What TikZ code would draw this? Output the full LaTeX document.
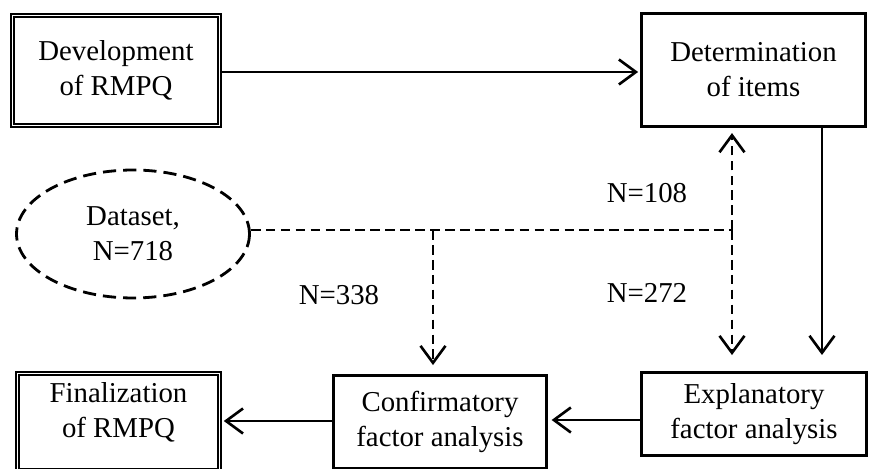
\documentclass[tikz,border=0pt]{standalone}
\usepackage{fontspec}
\setmainfont{Liberation Serif}
\usetikzlibrary{arrows.meta,shapes.geometric}
\begin{document}
\begin{tikzpicture}[x=0.02cm, y=-0.02cm, line width=1.6pt,
    font=\fontsize{16.4}{19.9}\selectfont,
    box/.style={draw, align=center, inner sep=0pt},
    dblbox/.style={box, line width=0.9pt, double, double distance=1.1pt},
    arr/.style={-{Straight Barb[length=0.34cm, width=0.5cm, line width=1.5pt]}},
    dsh/.style={dash pattern=on 5.5pt off 3pt}]
  \useasboundingbox (0, 0) rectangle (870, 469);
  % Boxes.
  \node[dblbox, minimum width=4.14cm, minimum height=2.2cm] (dev) at (116, 70.5) {Development\\of RMPQ};
  \node[box, minimum width=4.49cm, minimum height=2.27cm] (det) at (753.5, 70) {Determination\\of items};
  \node[box, minimum width=4.5cm, minimum height=1.67cm] (expl) at (754, 414) {Explanatory\\factor analysis};
  \node[box, minimum width=4.27cm, minimum height=1.87cm] (conf) at (440, 422) {Confirmatory\\factor analysis};
  \node[dblbox, minimum width=4.04cm, minimum height=1.94cm] (fin) at (118.5, 422) {Finalization\\of RMPQ\\[-6pt]\mbox{}};
  \node[ellipse, draw, dash pattern=on 7.5pt off 4pt, minimum width=4.66cm, minimum height=2.56cm,
        inner sep=0pt, align=center] (ds) at (133, 234) {Dataset,\\N=718};
  % Main flow.
  \draw[arr, shorten >=1pt] (dev.east |- 0, 72) -- (det.west |- 0, 72);
  \draw[arr] (det.south -| 822, 0) -- (822, 355);
  \draw[arr, shorten >=2pt] (expl.west |- 0, 420) -- (conf.east |- 0, 420);
  \draw[arr, shorten >=2pt] (conf.west |- 0, 421) -- (fin.east |- 0, 421);
  % Split of the dataset.
  \coordinate (J) at (732, 230);
  \coordinate (K) at (433, 230);
  \draw[dsh] (J -| ds.east) -- (J);
  \draw[dsh, arr, shorten >=2.8pt] (J) -- (det.south -| J);
  \draw[dsh, arr, shorten >=9pt] (J) -- (expl.north -| J);
  \draw[dsh, arr, shorten >=5pt] (K) -- (conf.north -| K);
  \node at (647, 193) {N=108};
  \node at (647, 293) {N=272};
  \node at (339, 295) {N=338};
\end{tikzpicture}
\end{document}
